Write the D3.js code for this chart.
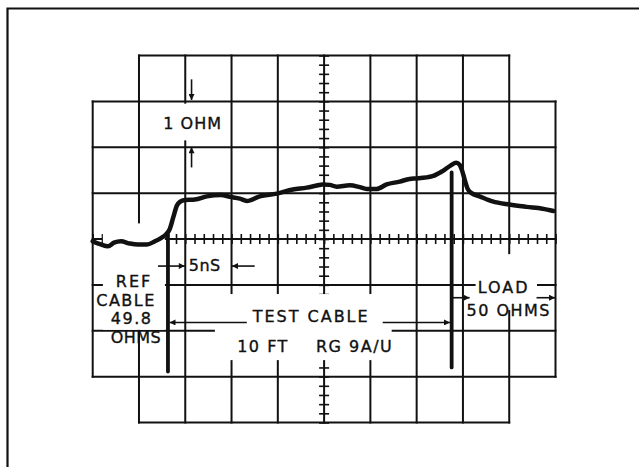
<!DOCTYPE html>
<html>
<head>
<meta charset="utf-8">
<script src="https://cdn.jsdelivr.net/npm/d3@7"></script>
<style>
  html, body { margin: 0; padding: 0; background: #fff; }
  svg { display: block; }
  text { font-family: "DejaVu Sans", sans-serif; font-size: 16px; fill: #111; stroke: #111; stroke-width: 0.35px; }
</style>
</head>
<body>
<svg id="chart" width="639" height="467"></svg>
<script>
// TDR trace: time (ns, 5 ns/div) vs impedance offset (ohm, 1 ohm/div)
var timeNs = [0, 0.79, 1.65, 2.30, 3.05, 4.03, 4.89, 5.86, 6.72, 7.37, 7.91, 8.31, 8.70, 9.10, 9.42,
              9.96, 11.04, 12.34, 13.85, 14.82, 15.90, 16.65, 18.05, 19.89, 21.62, 23.13, 24.10,
              24.85, 25.61, 26.36, 27.77, 28.85, 29.60, 30.68, 31.76, 33.16, 34.24, 34.99, 36.72,
              37.80, 38.66, 39.28, 39.64, 39.91, 40.18, 40.50, 40.93, 41.80, 43.20, 45.03, 46.87,
              48.60, 49.79];
var ohms = [-0.05, -0.11, -0.16, -0.08, -0.05, -0.10, -0.12, -0.12, -0.05, 0.02, 0.10, 0.21, 0.47,
            0.73, 0.81, 0.85, 0.86, 0.93, 0.96, 0.92, 0.88, 0.83, 0.93, 0.99, 1.08, 1.12, 1.16,
            1.19, 1.18, 1.14, 1.17, 1.13, 1.09, 1.09, 1.19, 1.25, 1.31, 1.32, 1.37, 1.48, 1.60,
            1.66, 1.62, 1.49, 1.30, 1.10, 1.00, 0.93, 0.82, 0.75, 0.70, 0.66, 0.61];

var gridTimes = [0, 5, 10, 15, 20, 25, 30, 35, 40, 45, 50];
var gridOhms = [-4, -3, -2, -1, 0, 1, 2, 3, 4];

// cable boundaries (ns) and the marker extents (ohm)
var refEnd = 8.13, loadStart = 38.78;
var markers = [[refEnd, 0.10, -2.89], [loadStart, 1.45, -2.80]];

// arrows: [t1, v1, t2, v2], head at the second point
var arrows = [
  [10.68, 3.48, 10.68, 3.03],
  [10.68, 1.56, 10.68, 2.0],
  [7.05, -0.59, 9.95, -0.59],
  [17.5, -0.59, 15.05, -0.59],
  [16.65, -1.82, 8.3, -1.82],
  [31.33, -1.82, 38.6, -1.82],
  [38.9, -1.28, 40.72, -1.28],
  [47.95, -1.28, 49.95, -1.28]
];

// label blocks blank the graticule behind them: [t1, t2, v1, v2]
var masks = [
  [8.13, 13.52, 2.95, 2.15],
  [1.10, 7.80, 0.34, -1.98],
  [13.20, 32.30, -1.20, -2.64],
  [41.37, 48.0, -0.33, -1.55]
];

// [text, t, v, letter spacing]
var labels = [
  ["1 OHM", 10.8, 2.39, 1],
  ["5nS", 12.1, -0.69, 0.5],
  ["REF", 4.47, -1.05, 2],
  ["CABLE", 3.6, -1.45, 1.5],
  ["49.8", 4.21, -1.86, 1.5],
  ["OHMS", 4.67, -2.27, 0.5],
  ["TEST CABLE", 23.6, -1.82, 2],
  ["10 FT", 18.4, -2.46, 1.5],
  ["RG 9A/U", 28.3, -2.46, 1.5],
  ["LOAD", 44.4, -1.18, 2],
  ["50 OHMS", 44.95, -1.68, 1.5]
];

var svg = d3.select("#chart");

var x = d3.scaleLinear().domain([0, 50]).range([92.7, 555.5]);
var y = d3.scaleLinear().domain([-4, 4]).range([422.5, 55.5]);

svg.append("defs").append("marker")
   .attr("id", "head")
   .attr("viewBox", "0 0 10 10")
   .attr("refX", 10).attr("refY", 5)
   .attr("markerWidth", 8).attr("markerHeight", 6)
   .attr("markerUnits", "userSpaceOnUse")
   .attr("orient", "auto")
   .append("path")
   .attr("d", "M0,0L10,5L0,10Z")
   .attr("fill", "#111");

// outer frame (only top and left edges show in the scan)
svg.append("path")
   .attr("d", "M7.5,467V8.5H639")
   .attr("fill", "none")
   .attr("stroke", "#111")
   .attr("stroke-width", 2.2);

var grid = svg.append("g")
              .attr("stroke", "#111")
              .attr("stroke-width", 2)
              .attr("stroke-linecap", "square");

grid.selectAll("line.v")
    .data(gridTimes)
    .enter().append("line")
    .attr("class", "v")
    .attr("x1", function(d) { return x(d); })
    .attr("x2", function(d) { return x(d); })
    .attr("y1", function(d) { return y(d == 0 || d == 50 ? 3 : 4); })
    .attr("y2", function(d) { return y(d == 0 || d == 50 ? -3 : -4); });

grid.selectAll("line.h")
    .data(gridOhms)
    .enter().append("line")
    .attr("class", "h")
    .attr("y1", function(d) { return y(d); })
    .attr("y2", function(d) { return y(d); })
    .attr("x1", function(d) { return x(Math.abs(d) == 4 ? 5 : 0); })
    .attr("x2", function(d) { return x(Math.abs(d) == 4 ? 45 : 50); });

// minor divisions on the centre lines
function minor(g) {
  g.select(".domain").remove();
  g.selectAll(".tick line").attr("stroke", "#111").attr("stroke-width", 1.6);
}
var minorT = x.ticks(50), minorV = y.ticks(40);
svg.append("g").attr("transform", "translate(0," + y(0) + ")")
   .call(d3.axisBottom(x).tickValues(minorT).tickSize(5).tickFormat("")).call(minor);
svg.append("g").attr("transform", "translate(0," + y(0) + ")")
   .call(d3.axisTop(x).tickValues(minorT).tickSize(5).tickFormat("")).call(minor);
svg.append("g").attr("transform", "translate(" + x(25) + ",0)")
   .call(d3.axisLeft(y).tickValues(minorV).tickSize(5).tickFormat("")).call(minor);
svg.append("g").attr("transform", "translate(" + x(25) + ",0)")
   .call(d3.axisRight(y).tickValues(minorV).tickSize(5).tickFormat("")).call(minor);

svg.append("g").selectAll("rect")
   .data(masks)
   .enter().append("rect")
   .attr("x", function(d) { return x(d[0]); })
   .attr("width", function(d) { return x(d[1]) - x(d[0]); })
   .attr("y", function(d) { return y(d[2]); })
   .attr("height", function(d) { return y(d[3]) - y(d[2]); })
   .attr("fill", "#fff");

var trace = d3.line()
              .x(function(d, i) { return x(timeNs[i]); })
              .y(function(d) { return y(d); })
              .curve(d3.curveMonotoneX);

svg.append("path")
   .datum(ohms)
   .attr("d", trace)
   .attr("fill", "none")
   .attr("stroke", "#111")
   .attr("stroke-width", 4.5)
   .attr("stroke-linejoin", "round")
   .attr("stroke-linecap", "round");

svg.append("g").selectAll("line")
   .data(markers)
   .enter().append("line")
   .attr("x1", function(d) { return x(d[0]); })
   .attr("x2", function(d) { return x(d[0]); })
   .attr("y1", function(d) { return y(d[1]); })
   .attr("y2", function(d) { return y(d[2]); })
   .attr("stroke", "#111")
   .attr("stroke-width", 3.8)
   .attr("stroke-linecap", "round");

svg.append("g").selectAll("line")
   .data(arrows)
   .enter().append("line")
   .attr("x1", function(d) { return x(d[0]); })
   .attr("y1", function(d) { return y(d[1]); })
   .attr("x2", function(d) { return x(d[2]); })
   .attr("y2", function(d) { return y(d[3]); })
   .attr("stroke", "#111")
   .attr("stroke-width", 1.6)
   .attr("marker-end", "url(#head)");

svg.append("g").selectAll("text")
   .data(labels)
   .enter().append("text")
   .attr("x", function(d) { return x(d[1]); })
   .attr("y", function(d) { return y(d[2]); })
   .attr("text-anchor", "middle")
   .style("letter-spacing", function(d) { return d[3] + "px"; })
   .text(function(d) { return d[0]; });
</script>
</body>
</html>
